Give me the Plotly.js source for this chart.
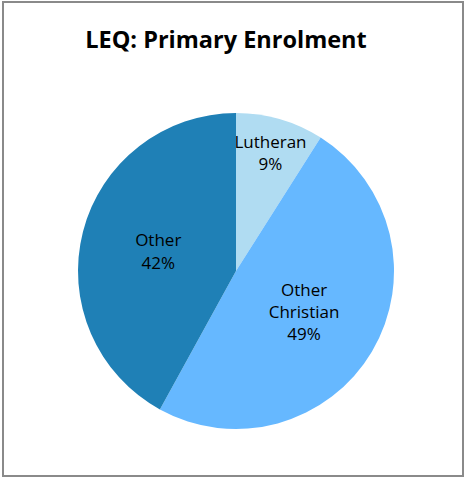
<!DOCTYPE html>
<html><head><meta charset="utf-8">
<script src="https://cdn.plot.ly/plotly-3.0.1.min.js"></script>
<style>
html,body{margin:0;padding:0;background:#fff;}
#wrap{position:relative;width:466px;height:477px;}
#chart{position:absolute;left:0;top:0;width:466px;height:477px;}
#frame{position:absolute;left:2px;top:1px;width:458px;height:472px;border:2px solid #8a8a8a;pointer-events:none;}
</style></head>
<body>
<div id="wrap"><div id="chart"></div><div id="frame"></div></div>
<script>
const categories = ["Lutheran", "Other Christian", "Other"];
const labelLines = ["Lutheran", "Other<br>Christian", "Other"];
const values = [9, 49, 42];
const colors = ["#b0dcf2", "#66b8ff", "#1f80b6"];

const trace = {
  type: "pie",
  labels: categories,
  values: values,
  text: labelLines,
  sort: false,
  direction: "clockwise",
  rotation: 0,
  marker: {colors: colors, line: {width: 0}},
  texttemplate: "%{text}<br>%{percent}",
  textposition: "inside",
  insidetextorientation: "horizontal",
  textfont: {family: "Open Sans, Noto Sans, sans-serif", size: 17, color: "#000"},
  hoverinfo: "label+percent",
  domain: {x: [78/466, 394/466], y: [1 - 429/477, 1 - 113/477]},
  showlegend: false
};

const layout = {
  width: 466, height: 477,
  margin: {l: 0, r: 0, t: 0, b: 0},
  paper_bgcolor: "#fff",
  title: {text: "<b>LEQ: Primary Enrolment</b>", x: 226/466, xanchor: "center", y: 1 - 40/477, yanchor: "middle",
          font: {family: "Open Sans, Noto Sans, sans-serif", size: 23.5, color: "#000"}},
  uniformtext: {mode: "show", minsize: 17}
};
Plotly.newPlot("chart", [trace], layout, {displayModeBar: false, staticPlot: true});
</script>
</body></html>
